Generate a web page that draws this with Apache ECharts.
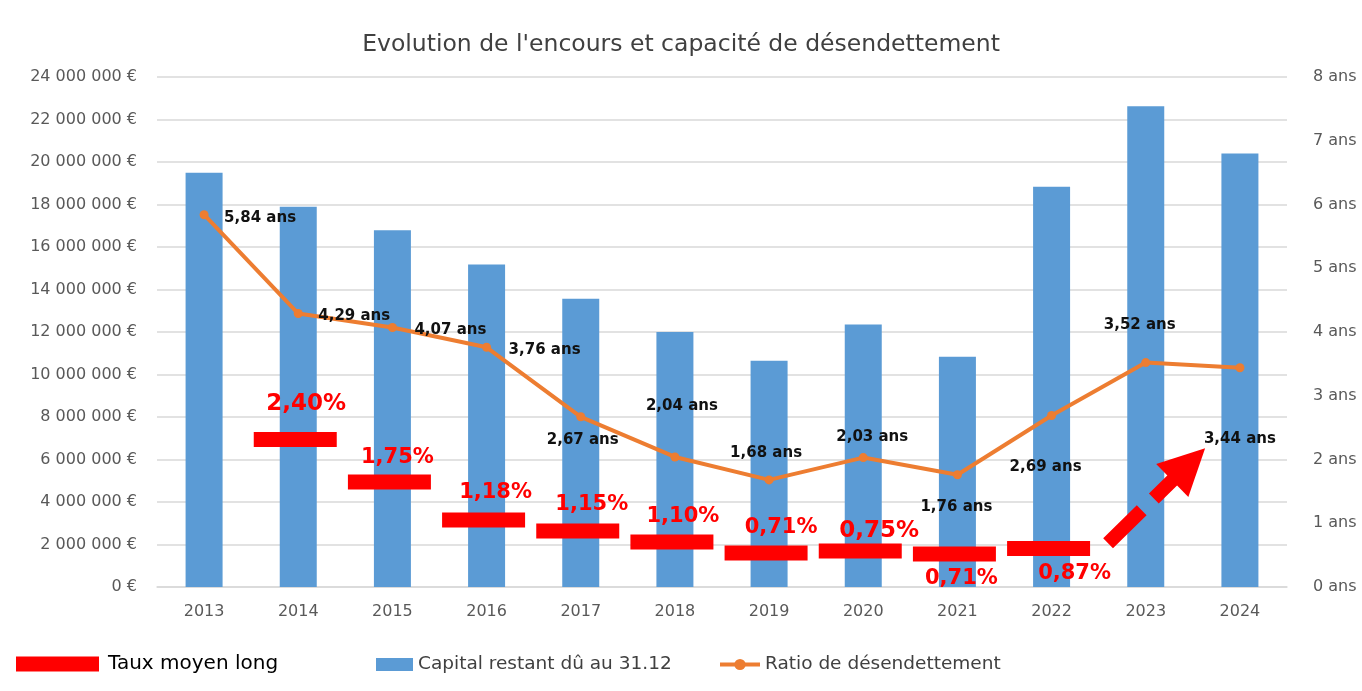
<!DOCTYPE html>
<html><head><meta charset="utf-8">
<script src="https://cdn.jsdelivr.net/npm/echarts@6/dist/echarts.min.js"></script>
<style>html,body{margin:0;padding:0;background:#fff}#c{width:1362px;height:691px}</style>
</head><body><div id="c"></div>
<script>
// ---- data ----
const years = ['2013','2014','2015','2016','2017','2018','2019','2020','2021','2022','2023','2024'];
const capital = [19490000, 17900000, 16790000, 15180000, 13560000, 12000000, 10650000, 12350000, 10830000, 18830000, 22620000, 20400000];
const ratio = [5.84, 4.29, 4.07, 3.76, 2.67, 2.04, 1.68, 2.03, 1.76, 2.69, 3.52, 3.44];
const rateYears = ['2014','2015','2016','2017','2018','2019','2020','2021','2022'];
const rateLabels = ['2,40%','1,75%','1,18%','1,15%','1,10%','0,71%','0,75%','0,71%','0,87%'];
const rateMarkerLevel = [6940000, 4940000, 3150000, 2640000, 2120000, 1600000, 1690000, 1550000, 1810000];
const arrowPath = [[9.60, 2060000], [10.456, 5770000]];
const leftAxisMax = 24000000, leftAxisStep = 2000000;
const rightAxisMax = 8, rightAxisStep = 1;

// ---- label placement (style) ----
const ratioLabelOffset = [[56,3],[56,3],[58,3],[58,3],[2,23],[7,-51],[-3,-27],[9,-20],[-1,32],[-6,52],[-6,-37],[0,71]];
const rateLabelOffset = [[11,-35.5],[8,-24.5],[12,-27.5],[14,-26.5],[11,-25],[15,-25],[19,-20],[7,24],[26,25.5]];
const rateLabelSize = [23,21,21,21,21,21,23,21,21];

const FONT = 'DejaVu Sans';
const euro = v => String(v).replace(/\B(?=(\d{3})+(?!\d))/g, ' ') + ' €';

const chart = echarts.init(document.getElementById('c'), null, {renderer: 'canvas'});
chart.setOption({
  backgroundColor: '#fff',
  animation: false,
  textStyle: {fontFamily: FONT},
  title: {
    text: "Evolution de l'encours et capacité de désendettement",
    left: 'center', top: 28,
    textStyle: {fontFamily: FONT, fontSize: 23.5, fontWeight: 'normal', color: '#404040'}
  },
  grid: {left: 157, right: 75, top: 77, bottom: 104},
  legend: [
    {data: [{name: 'Taux moyen long', icon: 'rect'}], left: 16, top: 654, padding: 0,
     itemWidth: 83, itemHeight: 15, textStyle: {fontFamily: FONT, fontSize: 20, color: '#000', padding: [0,0,0,4]}},
    {data: [{name: 'Capital restant dû au 31.12', icon: 'rect'}], left: 376, top: 655, padding: 0,
     itemWidth: 37, itemHeight: 13, textStyle: {fontFamily: FONT, fontSize: 18.5, color: '#404040'}},
    {data: ['Ratio de désendettement'], left: 718, top: 655, padding: 0,
     itemWidth: 40, itemHeight: 14, lineStyle: {width: 4},
     textStyle: {fontFamily: FONT, fontSize: 18.5, color: '#404040'}}
  ],
  xAxis: [
    {type: 'category', data: years,
     axisLine: {lineStyle: {color: '#D9D9D9', width: 1.5}}, axisTick: {show: false},
     axisLabel: {fontFamily: FONT, fontSize: 16, color: '#595959', margin: 17}},
    {type: 'value', min: -0.5, max: 11.5, show: false}
  ],
  yAxis: [
    {type: 'value', min: 0, max: leftAxisMax, interval: leftAxisStep,
     axisLine: {show: false}, axisTick: {show: false},
     splitLine: {lineStyle: {color: '#D9D9D9', width: 1.5}},
     axisLabel: {fontFamily: FONT, fontSize: 16, color: '#595959', margin: 20, formatter: euro}},
    {type: 'value', min: 0, max: rightAxisMax, interval: rightAxisStep, position: 'right',
     axisLine: {show: false}, axisTick: {show: false}, splitLine: {show: false},
     axisLabel: {fontFamily: FONT, fontSize: 16, color: '#595959', margin: 26, formatter: '{value} ans'}}
  ],
  series: [
    {name: 'Capital restant dû au 31.12', type: 'bar', data: capital, barWidth: 37,
     itemStyle: {color: '#5B9BD5'}, z: 1},
    {name: 'Ratio de désendettement', type: 'line', yAxisIndex: 1,
     data: ratio.map((v, i) => ({value: v, label: {offset: ratioLabelOffset[i]}})),
     symbol: 'circle', symbolSize: 9,
     lineStyle: {color: '#ED7D31', width: 4}, itemStyle: {color: '#ED7D31'},
     label: {show: true, position: 'inside', fontFamily: FONT, fontSize: 15, fontWeight: 'bold', color: '#111',
             formatter: p => p.value.toFixed(2).replace('.', ',') + ' ans'},
     z: 3},
    {name: 'Taux moyen long', type: 'scatter',
     data: rateYears.map((y, i) => ({value: [y, rateMarkerLevel[i]],
        label: {formatter: rateLabels[i], offset: rateLabelOffset[i], fontSize: rateLabelSize[i]}})),
     symbol: 'rect', symbolSize: [83, 15], symbolOffset: [-3, 0],
     itemStyle: {color: '#FF0000', opacity: 1},
     label: {show: true, position: 'inside', fontFamily: FONT, fontWeight: 'bold', color: '#FF0000'},
     z: 4},
    {name: 'arrow', type: 'lines', coordinateSystem: 'cartesian2d', xAxisIndex: 1, yAxisIndex: 0,
     data: [{coords: arrowPath}],
     symbol: ['none', 'triangle'], symbolSize: [47, 46],
     lineStyle: {color: '#FF0000', width: 14, type: [47, 17], cap: 'butt', opacity: 1},
     z: 5}
  ]
});
</script></body></html>
